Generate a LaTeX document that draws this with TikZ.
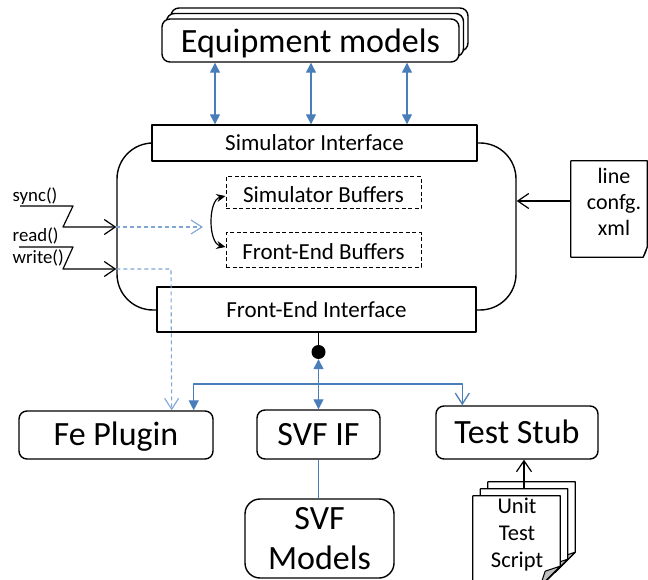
\documentclass[tikz,border=0pt]{standalone}
\usepackage{fontspec}
\setmainfont{Carlito}
\usetikzlibrary{arrows.meta,calc}
\definecolor{linkblue}{HTML}{4A7EBB}
\definecolor{dashblue}{HTML}{7FA6D6}
\definecolor{flapgray}{HTML}{BFBFBF}
\tikzset{
  bluetip/.tip={Triangle[length=10pt,width=10pt]},
  blackbarb/.tip={Straight Barb[length=11pt,width=15pt]},
  bluebarb/.tip={Straight Barb[length=11pt,width=14pt]},
  fliptip/.tip={Stealth[length=9pt,width=8pt]}
}

\begin{document}
\begin{tikzpicture}[x=1pt,y=-1pt,line join=round,
  outline/.style={draw,line width=1.4pt,fill=white,inner sep=0pt},
  roundbox/.style={outline,rounded corners=8pt},
  bigtext/.style={font=\fontsize{34}{41}\selectfont,text height=21pt,text depth=0pt},
  midtext/.style={font=\fontsize{23}{27}\selectfont,text height=15pt,text depth=0pt},
  buftext/.style={font=\fontsize{23}{27}\selectfont,text height=20pt,text depth=0pt},
  smalltext/.style={font=\fontsize{18.8}{22}\selectfont,inner sep=0pt},
  doctext/.style={font=\fontsize{22}{26}\selectfont,align=center,inner sep=0pt},
  bufbox/.style={draw,dashed,dash pattern=on 4pt off 2.5pt,line width=1pt,inner sep=0pt},
  bluelink/.style={draw=linkblue,line width=1.3pt},
  openblack/.style={line width=1.2pt,-blackbarb},
  dashlink/.style={draw=dashblue,line width=1.1pt,dash pattern=on 4pt off 3pt,-bluebarb},
  flap/.style={draw,line width=1pt,fill=flapgray},
  sheet/.style={draw,line width=1.2pt,fill=white}
]
\useasboundingbox (0,0) rectangle (648,580);
\clip (0,0) rectangle (648,580);

% stacked equipment models
\node[roundbox,minimum width=297pt,minimum height=43pt] (eq3) at (319.5,29.5) {};
\node[roundbox,minimum width=297pt,minimum height=43pt] (eq2) at (315,35) {};
\node[roundbox,bigtext,minimum width=297pt,minimum height=43pt,text height=24pt] (eq) at (310.5,40.5) {Equipment models};

% simulator core container
\node[draw,line width=1.4pt,rounded corners=36pt,minimum width=399pt,minimum height=167pt,inner sep=0pt] (core) at (316.5,226.5) {};

% interfaces
\node[outline,midtext,minimum width=325pt,minimum height=36pt] (si) at (314.5,143) {Simulator Interface};
\node[outline,midtext,minimum width=319pt,minimum height=45pt] (fe) at (316.5,309.5) {Front-End Interface};

% buffers
\node[bufbox,buftext,minimum width=195pt,minimum height=32pt] (sb) at (323.5,193) {Simulator Buffers};
\node[bufbox,buftext,minimum width=195pt,minimum height=34pt] (fb) at (323.5,250) {Front-End Buffers};
\draw[line width=1.2pt,fliptip-fliptip]
  ($(sb.west)+(0,3)$) .. controls (208,200) and (208,243) .. ($(fb.west)+(0,-3)$);

% links to equipment models
\foreach \xx in {215,311,407}
  \draw[bluelink,bluetip-bluetip] (eq.south -| \xx,0) -- (si.north -| \xx,0);

% sync / read / write calls
\node[smalltext,anchor=base west] (syncl) at (12.5,202) {sync()};
\node[smalltext,anchor=base west] (readl) at (12.5,242) {read()};
\node[smalltext,anchor=base west] (writel) at (12.5,263) {write()};
\coordinate (syncstart) at (20,206);
\coordinate (writestart) at (19,247);
\coordinate (syncin) at (core.west |- 0,227);
\coordinate (writein) at (core.west |- 0,269);
\coordinate (syncend) at (203,227);
\draw[openblack] (syncstart) -- (73,206) -- (63,227) -- (syncin);
\draw[openblack] (writestart) -- (73,247) -- (63,269) -- (writein);

% configuration file
\node[minimum width=76pt,minimum height=96pt,inner sep=0pt] (cfg) at (609,209) {};
\draw[sheet] (cfg.north west) -- (cfg.north east) -- ([yshift=10pt]cfg.south east)
  -- ([xshift=-4pt]cfg.south east) -- (cfg.south west) -- cycle;
\draw[flap,line width=0.8pt] ([yshift=10pt]cfg.south east) -- ([xshift=-4pt]cfg.south east)
  -- ([xshift=-1.5pt,yshift=5pt]cfg.south east) -- cycle;
\node[doctext] (cfgtext) at (614,202) {line\\confg.\\xml};
\draw[openblack] ([yshift=8pt]cfg.west) -- ([yshift=8pt]cfg.west -| core.east);

% lower components
\node[roundbox,bigtext,minimum width=194pt,minimum height=48pt] (fep) at (116,435) {Fe Plugin};
\node[roundbox,bigtext,minimum width=123pt,minimum height=49pt] (svf) at (318.5,434.5) {SVF IF};
\node[roundbox,bigtext,minimum width=162pt,minimum height=53pt] (ts) at (517,432.5) {Test Stub};
\node[roundbox,rounded corners=15pt,font=\fontsize{34}{40}\selectfont,align=center,
  minimum width=149pt,minimum height=79pt] (svfm) at (319.5,538.5) {SVF\\Models};

% dashed call paths
\draw[dashlink] (syncin) -- (syncend);
\draw[dashlink] (writein) -- (171,269) -- ([xshift=-42pt]fep.north east);

% front-end connector
\node[circle,fill=black,minimum size=14pt,inner sep=0pt] (dot) at (318.5,352) {};
\draw[line width=1.8pt] (fe.south -| dot) -- (dot);
\coordinate (hub) at (dot |- 0,384);
\draw[bluelink,bluetip-bluetip] (dot.south) -- (svf.north);
\draw[bluelink,-bluetip] (hub) -| ([xshift=-20pt]fep.north east);
\draw[bluelink,-bluebarb] (hub) -| ([xshift=27pt]ts.north west);
\draw[draw=linkblue,line width=1pt] (svf.south) -- (svf.south |- svfm.north);

% unit test scripts
\foreach \nm/\cx/\cy in {ut3/531.5/527,ut2/524/534,ut1/516.5/541}{
  \node[minimum width=87pt,minimum height=90pt,inner sep=0pt] (\nm) at (\cx,\cy) {};
  \draw[sheet] (\nm.north west) -- (\nm.north east) -- ([yshift=20pt]\nm.south east)
    -- ([xshift=-20pt]\nm.south east) -- (\nm.south west) -- cycle;
  \draw[flap] ([yshift=20pt]\nm.south east) -- ([xshift=-20pt]\nm.south east)
    -- ([xshift=-15pt,yshift=15pt]\nm.south east) -- cycle;
}
\draw[openblack] (ut2.north -| 524,0) -- (ts.south -| 524,0);
\node[doctext,font=\fontsize{22.5}{27}\selectfont] (uttext) at (517,535) {Unit\\Test\\Script};
\end{tikzpicture}
\end{document}
